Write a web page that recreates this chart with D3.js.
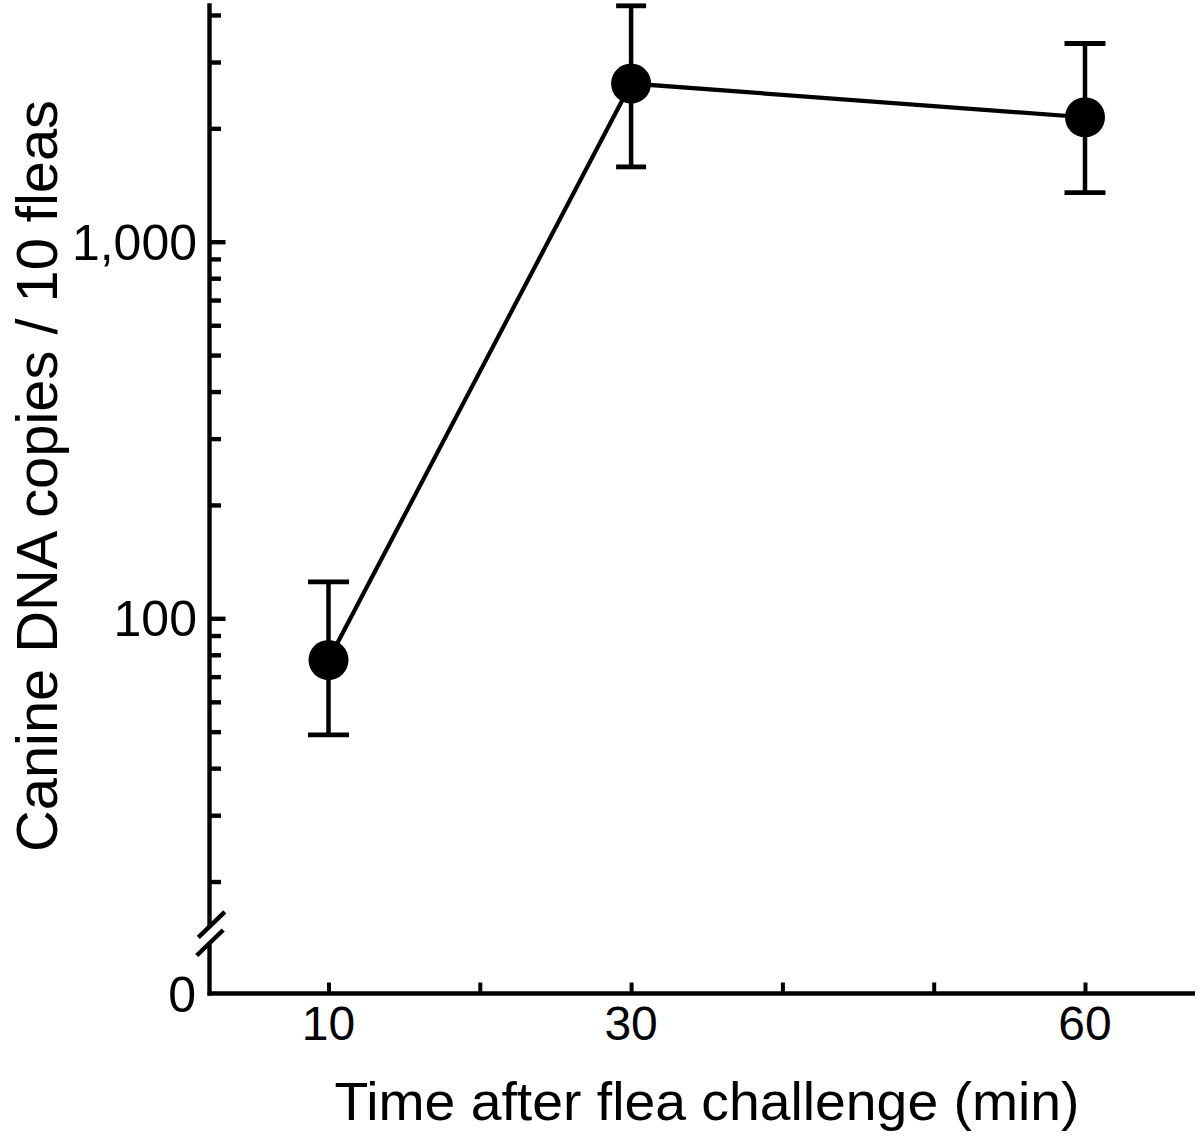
<!DOCTYPE html>
<html>
<head>
<meta charset="utf-8">
<script src="https://cdn.jsdelivr.net/npm/d3@7"></script>
<style>
  html, body { margin: 0; padding: 0; background: #fff; }
  svg { display: block; }
</style>
</head>
<body>
<svg id="chart" width="1200" height="1142"></svg>
<script>
// ---- data ----
const times = [10, 30, 60];                 // minutes after flea challenge
const means = [77.5, 2630, 2140];           // canine DNA copies / 10 fleas
const upper = [125, 4230, 3360];            // error bar upper ends
const lower = [49, 1580, 1350];             // error bar lower ends
const xTickValues = [10, 20, 30, 40, 50, 60];
const xTickLabels = ["10", "", "30", "", "", "60"];
const yMajorTicks = [100, 1000];
const yMajorLabels = ["100", "1,000"];
const yMinorTicks = [20, 30, 40, 50, 60, 70, 80, 90, 200, 300, 400, 500, 600, 700, 800, 900, 2000, 3000, 4000];
const yZeroLabel = "0";
const xTitle = "Time after flea challenge (min)";
const yTitle = "Canine DNA copies / 10 fleas";

// ---- layout ----
const svg = d3.select("#chart");
const axisX = 209.5;      // y axis position
const axisY = 993.5;      // x axis position
const yTop = 4300;
const breakTop = 927, breakBottom = 943.5;
const capW = [41, 30, 41];

const x = d3.scaleLinear().domain([10, 60]).range([328.5, 1085]);
const y = d3.scaleLog().domain([100, 1000]).range([618.3, 241.7]);

const stroke = "#000";
const sw = 4.4;

// x axis line
svg.append("line")
  .attr("x1", axisX - 2).attr("x2", 1195)
  .attr("y1", axisY).attr("y2", axisY)
  .attr("stroke", stroke).attr("stroke-width", sw);

// x ticks (inward)
const xAxisG = svg.append("g").attr("transform", `translate(0,${axisY})`)
  .call(d3.axisTop(x).tickValues(xTickValues).tickSize(11).tickFormat(""));
xAxisG.select(".domain").remove();
xAxisG.selectAll(".tick line").attr("stroke", stroke).attr("stroke-width", 4);

// x tick labels
svg.append("g").selectAll("text")
  .data(xTickValues.map((v, i) => ({v, l: xTickLabels[i]})).filter(d => d.l))
  .join("text")
  .attr("x", d => x(d.v)).attr("y", 1040)
  .attr("text-anchor", "middle")
  .attr("font-family", "Liberation Sans, Arial, sans-serif")
  .attr("font-size", 48)
  .text(d => d.l);

// y axis line: upper (log) part and lower part below the break
svg.append("line")
  .attr("x1", axisX).attr("x2", axisX)
  .attr("y1", y(yTop)).attr("y2", breakTop)
  .attr("stroke", stroke).attr("stroke-width", sw);
svg.append("line")
  .attr("x1", axisX).attr("x2", axisX)
  .attr("y1", breakBottom).attr("y2", axisY + 2)
  .attr("stroke", stroke).attr("stroke-width", sw);

// break marks
[[198.3, 937.3], [196.7, 955.5]].forEach(([bx, by]) => {
  svg.append("line")
    .attr("x1", bx).attr("y1", by)
    .attr("x2", bx + 26.5).attr("y2", by - 25.5)
    .attr("stroke", stroke).attr("stroke-width", 4.5);
});

// y ticks (inward)
const yMinorG = svg.append("g").attr("transform", `translate(${axisX},0)`)
  .call(d3.axisRight(y).tickValues(yMinorTicks).tickSize(11.5).tickFormat(""));
yMinorG.select(".domain").remove();
yMinorG.selectAll(".tick line").attr("stroke", stroke).attr("stroke-width", 4.4);

const yMajorG = svg.append("g").attr("transform", `translate(${axisX},0)`)
  .call(d3.axisRight(y).tickValues(yMajorTicks).tickSize(16).tickFormat(""));
yMajorG.select(".domain").remove();
yMajorG.selectAll(".tick line").attr("stroke", stroke).attr("stroke-width", 4.4);

// y tick labels
svg.append("g").selectAll("text")
  .data(yMajorTicks.map((v, i) => ({v, l: yMajorLabels[i]})))
  .join("text")
  .attr("x", 197).attr("y", d => y(d.v) + 18)
  .attr("text-anchor", "end")
  .attr("font-family", "Liberation Sans, Arial, sans-serif")
  .attr("font-size", 50)
  .text(d => d.l);

svg.append("text")
  .attr("x", 196).attr("y", axisY + 18)
  .attr("text-anchor", "end")
  .attr("font-family", "Liberation Sans, Arial, sans-serif")
  .attr("font-size", 50)
  .text(yZeroLabel);

// data line
const pts = times.map((t, i) => ({t, m: means[i], hi: upper[i], lo: lower[i], cw: capW[i]}));
svg.append("path")
  .datum(pts)
  .attr("fill", "none").attr("stroke", stroke).attr("stroke-width", 4.2)
  .attr("d", d3.line().x(d => x(d.t)).y(d => y(d.m)));

// error bars
const eb = svg.append("g").selectAll("g").data(pts).join("g");
eb.append("line")
  .attr("x1", d => x(d.t)).attr("x2", d => x(d.t))
  .attr("y1", d => y(d.hi)).attr("y2", d => y(d.lo))
  .attr("stroke", stroke).attr("stroke-width", 4.5);
eb.append("line")
  .attr("x1", d => x(d.t) - d.cw / 2).attr("x2", d => x(d.t) + d.cw / 2)
  .attr("y1", d => y(d.hi)).attr("y2", d => y(d.hi))
  .attr("stroke", stroke).attr("stroke-width", 4.8);
eb.append("line")
  .attr("x1", d => x(d.t) - d.cw / 2).attr("x2", d => x(d.t) + d.cw / 2)
  .attr("y1", d => y(d.lo)).attr("y2", d => y(d.lo))
  .attr("stroke", stroke).attr("stroke-width", 4.8);

// markers
svg.append("g").selectAll("circle").data(pts).join("circle")
  .attr("cx", d => x(d.t)).attr("cy", d => y(d.m))
  .attr("r", 20).attr("fill", "#000");

// axis titles
svg.append("text")
  .attr("x", 707).attr("y", 1120)
  .attr("text-anchor", "middle")
  .attr("font-family", "Liberation Sans Narrow, Arial Narrow, Liberation Sans, sans-serif")
  .attr("font-size", 54)
  .attr("textLength", 745).attr("lengthAdjust", "spacingAndGlyphs")
  .text(xTitle);

svg.append("text")
  .attr("transform", "translate(57,476) rotate(-90)")
  .attr("text-anchor", "middle")
  .attr("font-family", "Liberation Sans Narrow, Arial Narrow, Liberation Sans, sans-serif")
  .attr("font-size", 58)
  .attr("textLength", 752).attr("lengthAdjust", "spacingAndGlyphs")
  .text(yTitle);
</script>
</body>
</html>
